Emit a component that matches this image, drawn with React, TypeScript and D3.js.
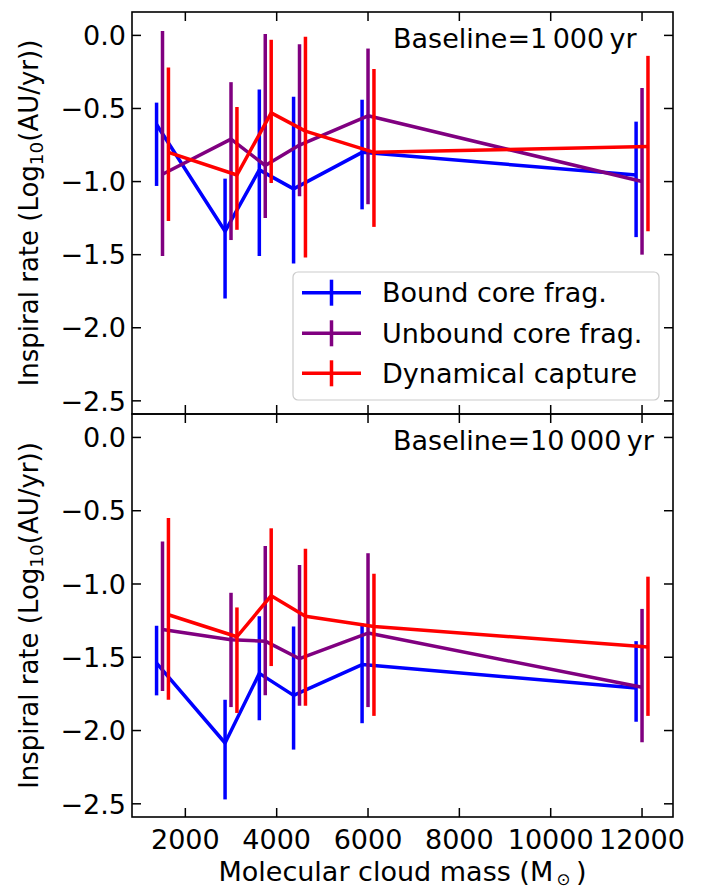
import React from "react";
import * as d3 from "d3";

// ---------------- data ----------------
const masses = [1500, 3000, 3750, 4500, 6000, 12000];
const massOffsets = [-130, 0, 130];
const seriesNames = ["Bound core frag.", "Unbound core frag.", "Dynamical capture"];
const seriesColors = ["#0000ff", "#800080", "#ff0000"];
const panelLabels = ["Baseline=1\u2009000\u2009yr", "Baseline=10\u2009000\u2009yr"];
const xTicks = [2000, 4000, 6000, 8000, 10000, 12000];
const yTicks = [0, -0.5, -1.0, -1.5, -2.0, -2.5];

// Baseline = 1 000 yr
const boundTop = [-0.61, -1.34, -0.92, -1.05, -0.8, -0.955];
const boundTopLow = [-1.03, -1.8, -1.51, -1.56, -1.19, -1.38];
const boundTopHigh = [-0.46, -0.98, -0.37, -0.42, -0.44, -0.59];
const unboundTop = [-0.95, -0.71, -0.89, -0.75, -0.55, -1.0];
const unboundTopLow = [-1.51, -1.4, -1.25, -1.1, -1.155, -1.5];
const unboundTopHigh = [0.03, -0.32, 0.01, -0.06, -0.09, -0.36];
const dynTop = [-0.8, -0.955, -0.53, -0.655, -0.8, -0.76];
const dynTopLow = [-1.27, -1.33, -1.01, -1.52, -1.31, -1.34];
const dynTopHigh = [-0.22, -0.49, -0.03, -0.01, -0.23, -0.14];

// Baseline = 10 000 yr
const boundBot = [-1.54, -2.085, -1.61, -1.76, -1.55, -1.71];
const boundBotLow = [-1.76, -2.47, -1.93, -2.13, -1.95, -1.94];
const boundBotHigh = [-1.285, -1.79, -1.22, -1.29, -1.27, -1.39];
const unboundBot = [-1.31, -1.38, -1.39, -1.51, -1.335, -1.705];
const unboundBotLow = [-1.73, -1.84, -1.76, -1.83, -1.84, -2.08];
const unboundBotHigh = [-0.71, -1.06, -0.74, -0.87, -0.79, -1.17];
const dynBot = [-1.21, -1.36, -1.08, -1.22, -1.29, -1.43];
const dynBotLow = [-1.79, -1.88, -1.56, -1.83, -1.9, -1.9];
const dynBotHigh = [-0.55, -1.16, -0.62, -0.76, -0.93, -0.95];

const panels = [
  [
    { v: boundTop, lo: boundTopLow, hi: boundTopHigh },
    { v: unboundTop, lo: unboundTopLow, hi: unboundTopHigh },
    { v: dynTop, lo: dynTopLow, hi: dynTopHigh },
  ],
  [
    { v: boundBot, lo: boundBotLow, hi: boundBotHigh },
    { v: unboundBot, lo: unboundBotLow, hi: unboundBotHigh },
    { v: dynBot, lo: dynBotLow, hi: dynBotHigh },
  ],
];

// ---------------- layout ----------------
const W = 703;
const H = 890;
const left = 132;
const right = 673;
const panelTops = [12, 414];
const panelBottoms = [414, 817];
const FONT = "DejaVu Sans, Verdana, sans-serif";
const FS = 27;
const LW = 3.5;
const TICK = 9;

const x = d3.scaleLinear().domain([832, 12678]).range([left, right]);
const fmtY = (v: number) => (v < 0 ? "\u2212" : "") + Math.abs(v).toFixed(1);

function Panel({ idx }: { idx: number }) {
  const top = panelTops[idx];
  const bottom = panelBottoms[idx];
  const y = d3.scaleLinear().domain([-2.59, 0.16]).range([bottom, top]);
  const line = d3
    .line<[number, number]>()
    .x((d) => d[0])
    .y((d) => d[1]);
  const series = panels[idx];
  const clipId = `clip${idx}`;
  return (
    <g>
      <defs>
        <clipPath id={clipId}>
          <rect x={left} y={top} width={right - left} height={bottom - top} />
        </clipPath>
      </defs>
      <g clipPath={`url(#${clipId})`}>
        {series.map((s, si) => {
          const pts: [number, number][] = masses.map((m, i) => [x(m + massOffsets[si]), y(s.v[i])]);
          return (
            <g key={si}>
              {masses.map((m, i) => (
                <line
                  key={i}
                  x1={x(m + massOffsets[si])}
                  x2={x(m + massOffsets[si])}
                  y1={y(s.lo[i])}
                  y2={y(s.hi[i])}
                  stroke={seriesColors[si]}
                  strokeWidth={LW}
                />
              ))}
              <path d={line(pts) || ""} fill="none" stroke={seriesColors[si]} strokeWidth={LW} strokeLinejoin="round" />
            </g>
          );
        })}
      </g>
      {/* ticks */}
      {xTicks.map((t) => (
        <g key={"xt" + t}>
          <line x1={x(t)} x2={x(t)} y1={bottom} y2={bottom - TICK} stroke="#000" strokeWidth={1.5} />
          <line x1={x(t)} x2={x(t)} y1={top} y2={top + TICK} stroke="#000" strokeWidth={1.5} />
        </g>
      ))}
      {yTicks.map((t) => (
        <g key={"yt" + t}>
          <line x1={left} x2={left + TICK} y1={y(t)} y2={y(t)} stroke="#000" strokeWidth={1.5} />
          <line x1={right} x2={right - TICK} y1={y(t)} y2={y(t)} stroke="#000" strokeWidth={1.5} />
          <text
            x={left - 6}
            y={y(t)}
            dy="0.36em"
            textAnchor="end"
            fontFamily={FONT}
            fontSize={FS}
            fill="#000"
          >
            {fmtY(t)}
          </text>
        </g>
      ))}
      <rect x={left} y={top} width={right - left} height={bottom - top} fill="none" stroke="#000" strokeWidth={1.6} />
      <text x={393} y={top + 36} fontFamily={FONT} fontSize={FS} fill="#000">
        {panelLabels[idx]}
      </text>
      {/* y label */}
      <text
        transform={`translate(38, ${(top + bottom) / 2}) rotate(-90)`}
        textAnchor="middle"
        fontFamily={FONT}
        fontSize={FS - 1}
        fill="#000"
      >
        Inspiral rate (Log
        <tspan fontSize={FS * 0.68} dy={5}>10</tspan>
        <tspan dy={-5}>(AU/yr))</tspan>
      </text>
    </g>
  );
}

function Legend() {
  const bx = 293;
  const by = 272;
  const bw = 366;
  const bh = 128;
  const rows = [292.7, 333.3, 373.3];
  return (
    <g>
      <rect x={bx} y={by} width={bw} height={bh} rx={5} ry={5} fill="#fff" fillOpacity={0.8} stroke="#cccccc" strokeWidth={1.2} />
      {seriesNames.map((n, i) => (
        <g key={n}>
          <line x1={302} x2={361} y1={rows[i]} y2={rows[i]} stroke={seriesColors[i]} strokeWidth={LW} />
          <line x1={331.5} x2={331.5} y1={rows[i] - 13} y2={rows[i] + 13} stroke={seriesColors[i]} strokeWidth={LW} />
          <text x={382} y={rows[i]} dy="0.36em" fontFamily={FONT} fontSize={FS} fill="#000">
            {n}
          </text>
        </g>
      ))}
    </g>
  );
}

export default function App() {
  const bottom = panelBottoms[1];
  return (
    <svg width={W} height={H} style={{ position: "absolute", left: 0, top: 0, background: "#fff" }}>
      <rect x={0} y={0} width={W} height={H} fill="#fff" />
      <Panel idx={0} />
      <Panel idx={1} />
      <Legend />
      {xTicks.map((t) => (
        <text key={t} x={x(t)} y={bottom + 32} textAnchor="middle" fontFamily={FONT} fontSize={FS} fill="#000">
          {t}
        </text>
      ))}
      <text x={(left + right) / 2} y={881} textAnchor="middle" fontFamily={FONT} fontSize={FS} fill="#000">
        Molecular cloud mass (M
        <tspan fontSize={FS * 0.62} dy={4}>{"\u2009\u2299"}</tspan>
        <tspan dy={-4}>{"\u2009)"}</tspan>
      </text>
    </svg>
  );
}
